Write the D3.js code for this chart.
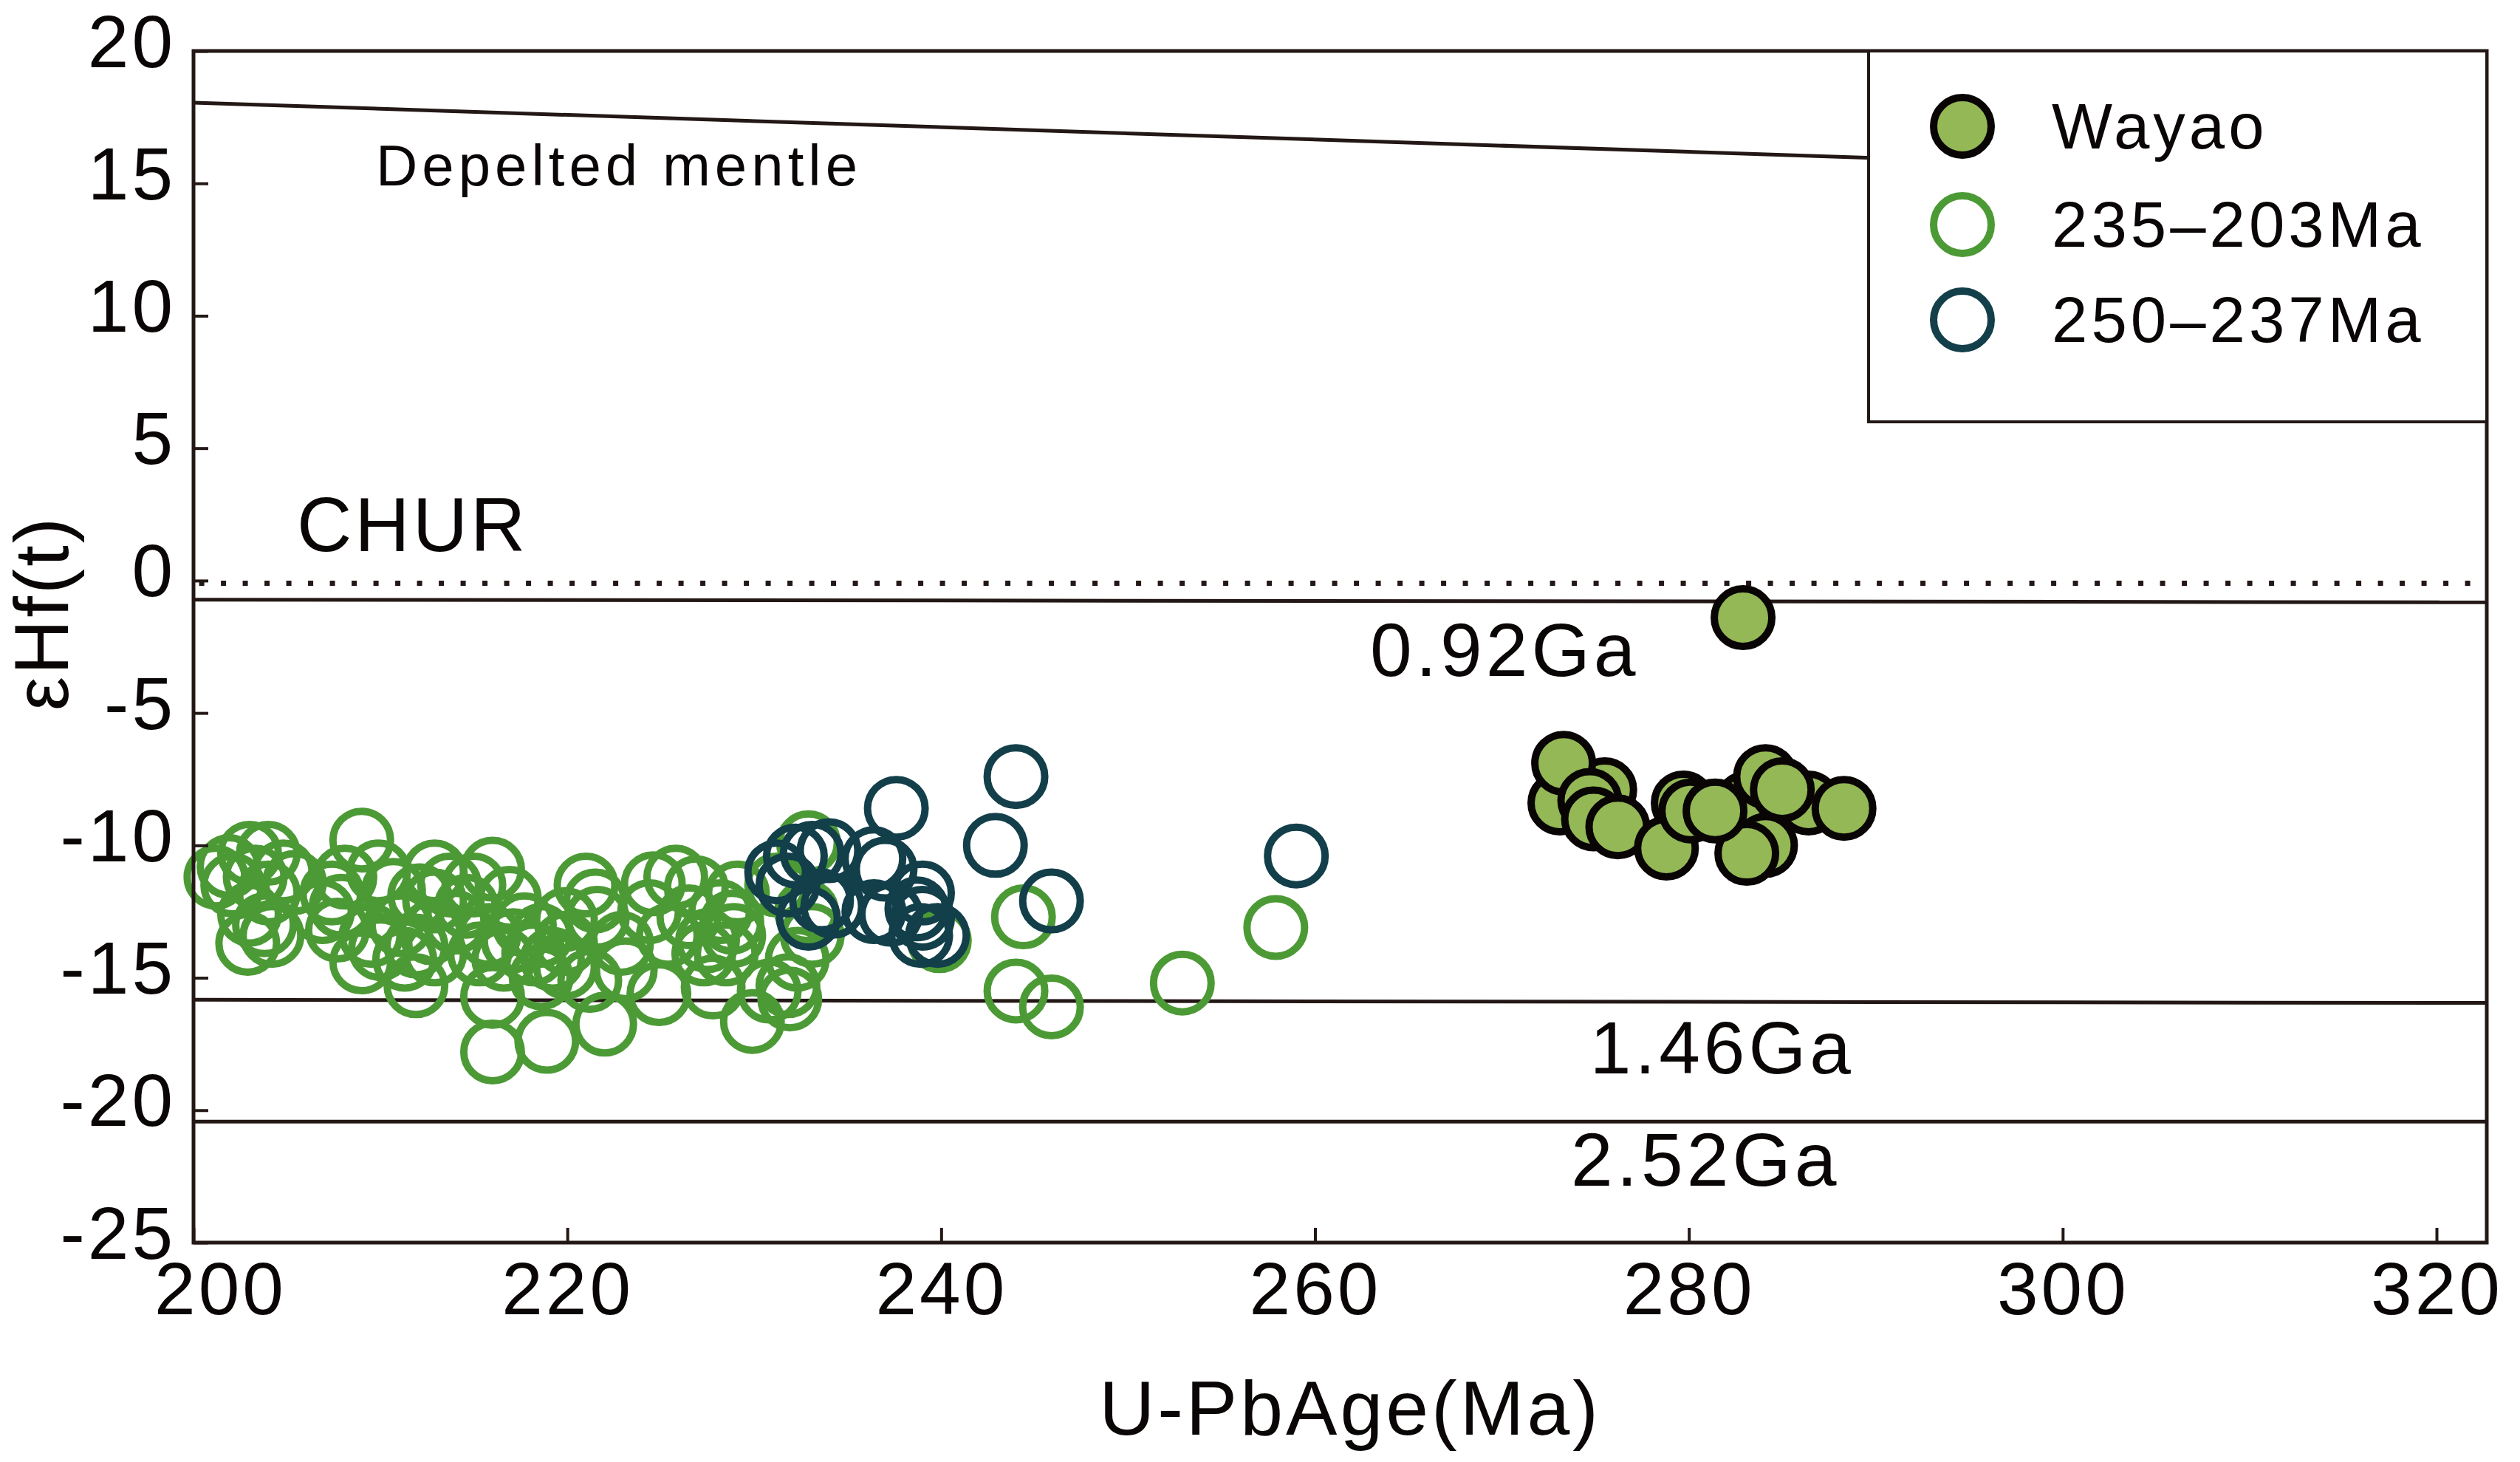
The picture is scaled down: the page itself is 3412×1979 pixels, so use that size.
<!DOCTYPE html>
<html>

<head>
    <meta charset="utf-8">
    <style>
        body {
            margin: 0;
            background-color: #ffffff;
        }

        text {
            font-family: "Liberation Sans", Arial, sans-serif;
            fill: #0a0606;
        }
    </style>
    <script src="https://cdn.jsdelivr.net/npm/d3@7"></script>
</head>

<body>
    <script>
        // data: [U-Pb age (Ma), eHf(t)]
        var young = [ // 235-203Ma, open green
            [201.2, -11.2], [201.9, -10.8], [203.0, -10.3], [204.0, -10.3], [203.3, -11.2], [204.8, -11.0],
            [205.4, -11.4], [202.1, -11.5], [204.0, -11.8], [203.0, -12.6], [203.8, -13.0], [202.9, -13.7],
            [204.2, -13.4], [209.0, -9.8], [208.1, -11.2], [206.9, -12.5], [207.4, -11.8], [207.9, -12.3],
            [209.9, -11.0], [207.7, -13.2], [209.5, -13.4], [209.0, -14.4], [210.0, -13.9], [210.7, -11.7],
            [211.1, -13.0], [211.3, -14.3], [211.9, -13.8], [211.9, -15.3], [212.1, -11.9], [212.7, -13.3],
            [212.9, -11.0], [212.9, -12.1], [212.9, -14.1], [213.7, -11.5], [214.0, -12.9], [214.6, -12.3],
            [215.0, -11.5], [215.3, -14.1], [215.8, -13.4], [216.0, -10.9], [216.0, -15.7], [216.0, -17.8],
            [216.6, -14.3], [216.9, -12.0], [217.1, -13.6], [217.7, -13.0], [218.2, -14.1], [218.6, -13.4],
            [218.6, -15.0], [218.9, -17.4], [219.2, -14.3], [219.9, -12.8], [219.9, -13.7], [219.9, -14.6],
            [221.0, -11.5], [221.2, -15.1], [221.5, -12.1], [221.6, -12.75], [222.0, -16.75], [222.9, -13.7],
            [223.1, -14.7], [224.4, -12.5], [224.6, -11.45], [224.9, -15.6], [225.4, -13.4], [225.8, -11.2],
            [226.5, -12.7], [226.9, -11.6], [227.3, -14.1], [227.5, -13.6], [227.8, -15.35], [228.2, -12.5],
            [228.5, -14.1], [228.8, -12.9], [228.9, -13.4], [229.1, -11.8], [229.9, -16.65], [230.8, -15.5],
            [231.2, -11.5], [231.8, -15.3], [231.9, -15.8], [232.3, -14.3], [232.8, -12.5], [232.9, -9.9],
            [233.1, -13.4], [239.9, -13.6], [244.4, -12.7], [244.0, -15.5], [245.9, -16.1], [252.9, -15.2],
            [257.9, -13.1]
        ];

        var old = [ // 250-237Ma, open dark
            [231.2, -11.0], [232.2, -10.4], [233.1, -10.3], [234.0, -10.2], [231.8, -11.5], [232.9, -12.75],
            [233.6, -12.1], [234.2, -12.3], [236.4, -10.5], [236.4, -12.5], [237.0, -10.9], [237.3, -12.6],
            [237.6, -8.6], [238.7, -12.4], [239.0, -11.8], [239.0, -12.75], [238.9, -13.4], [239.8, -13.4],
            [242.9, -10.0], [244.0, -7.4], [245.9, -12.1], [259.0, -10.4]
        ];

        var wayao = [ // filled
            [273.1, -8.4], [275.5, -7.9], [273.3, -6.9], [274.7, -8.3], [274.9, -9.0], [276.2, -9.3],
            [279.7, -8.4], [278.8, -10.1], [280.1, -8.7], [283.1, -8.4], [284.1, -10.0], [283.1, -10.3],
            [281.4, -8.7], [284.1, -7.4], [286.4, -8.4], [285.0, -7.9], [288.3, -8.6], [282.9, -1.4]
        ];

        // reference curves
        var depleted = [[200, 18.05], [322.7, 15.2]];
        var chur = [[200.3, -0.1], [322.5, -0.1]];
        var ga092 = [[200, -0.72], [322.7, -0.82]];
        var ga146 = [[200, -15.83], [322.7, -15.95]];
        var ga252 = [[200, -20.43], [322.7, -20.43]];

        var xTicks = [200, 220, 240, 260, 280, 300, 320];
        var yTicks = [-25, -20, -15, -10, -5, 0, 5, 10, 15, 20];

        var notes = [
            { text: "Depelted mentle", x: 209.76, y: 14.93, size: 78, ls: 6 },
            { text: "CHUR", x: 205.53, y: 1.12, size: 103, ls: 4 },
            { text: "0.92Ga", x: 262.94, y: -3.60, size: 102, ls: 5 },
            { text: "1.46Ga", x: 274.71, y: -18.61, size: 100, ls: 5 },
            { text: "2.52Ga", x: 273.69, y: -22.85, size: 102, ls: 5 }
        ];

        var legendNames = ["Wayao", "235\u2013203Ma", "250\u2013237Ma"];

        var w = 3412;
        var h = 1979;
        var ink = "#231815";
        var green = "#4c9a35";
        var dark = "#123f4a";
        var fillGreen = "#93b855";

        var svg = d3.select("body")
            .append("svg")
            .attr("width", w)
            .attr("height", h);

        var x = d3.scaleLinear().domain([200, 320]).range([262, 3299]);
        var y = d3.scaleLinear().domain([-25, 20]).range([1682, 69]);
        var plotLeft = 262, plotRight = 3367, plotTop = 69, plotBottom = 1682;

        var line = d3.line()
            .x(function (d) { return x(d[0]); })
            .y(function (d) { return y(d[1]); });

        // evolution lines
        [depleted, ga092, ga146, ga252].forEach(function (l) {
            svg.append("path")
                .attr("d", line(l))
                .attr("fill", "none")
                .attr("stroke", ink)
                .attr("stroke-width", 5);
        });
        svg.append("path")
            .attr("d", line(chur))
            .attr("fill", "none")
            .attr("stroke", ink)
            .attr("stroke-width", 7)
            .attr("stroke-dasharray", "7 22.5");

        // annotations
        notes.forEach(function (n) {
            svg.append("text")
                .attr("x", x(n.x))
                .attr("y", y(n.y))
                .style("font-size", n.size + "px")
                .style("letter-spacing", n.ls + "px")
                .text(n.text);
        });

        // points
        svg.append("g")
            .selectAll("circle")
            .data(young)
            .enter()
            .append("circle")
            .attr("cx", function (d) { return x(d[0]); })
            .attr("cy", function (d) { return y(d[1]); })
            .attr("r", 39)
            .attr("fill", "none")
            .attr("stroke", green)
            .attr("stroke-width", 10);

        svg.append("g")
            .selectAll("circle")
            .data(old)
            .enter()
            .append("circle")
            .attr("cx", function (d) { return x(d[0]); })
            .attr("cy", function (d) { return y(d[1]); })
            .attr("r", 39)
            .attr("fill", "none")
            .attr("stroke", dark)
            .attr("stroke-width", 10);

        svg.append("g")
            .selectAll("circle")
            .data(wayao)
            .enter()
            .append("circle")
            .attr("cx", function (d) { return x(d[0]); })
            .attr("cy", function (d) { return y(d[1]); })
            .attr("r", 39)
            .attr("fill", fillGreen)
            .attr("stroke", "#0a0505")
            .attr("stroke-width", 10);

        // axes, ticks pointing inward, plain hyphen for negatives
        var plain = function (d) { return String(d); };
        var xAxis = svg.append("g")
            .attr("transform", "translate(0," + plotBottom + ")")
            .call(d3.axisBottom(x).tickValues(xTicks).tickFormat(plain)
                .tickSizeInner(-20).tickSizeOuter(0).tickPadding(26));
        var yAxis = svg.append("g")
            .attr("transform", "translate(" + plotLeft + ",0)")
            .call(d3.axisLeft(y).tickValues(yTicks).tickFormat(plain)
                .tickSizeInner(-20).tickSizeOuter(0).tickPadding(24));

        [xAxis, yAxis].forEach(function (a) {
            a.select(".domain").remove();
            a.selectAll("line").attr("stroke", ink).attr("stroke-width", 4);
            a.selectAll("text")
                .attr("fill", "#0a0606")
                .style("font-family", "'Liberation Sans', Arial, sans-serif")
                .style("font-size", "100px")
                .style("letter-spacing", "4px");
        });
        yAxis.selectAll("text").attr("dy", "0.21em");
        xAxis.selectAll("text").filter(function (d) { return d === 200; }).attr("dx", 36);

        // frame
        svg.append("rect")
            .attr("x", plotLeft)
            .attr("y", plotTop)
            .attr("width", plotRight - plotLeft)
            .attr("height", plotBottom - plotTop)
            .attr("fill", "none")
            .attr("stroke", ink)
            .attr("stroke-width", 5);

        // axis titles
        svg.append("text")
            .attr("x", 1828)
            .attr("y", 1942)
            .attr("text-anchor", "middle")
            .style("font-size", "104px")
            .style("letter-spacing", "4px")
            .text("U-PbAge(Ma)");

        svg.append("text")
            .attr("transform", "translate(92,830) rotate(-90)")
            .attr("text-anchor", "middle")
            .style("font-size", "103px")
            .style("letter-spacing", "3px")
            .text("εHf(t)");

        // legend
        var legend = svg.append("g");
        legend.append("rect")
            .attr("x", 2530)
            .attr("y", plotTop)
            .attr("width", plotRight - 2530)
            .attr("height", 571 - plotTop)
            .attr("fill", "#ffffff")
            .attr("stroke", ink)
            .attr("stroke-width", 4);

        var legendY = [171, 304, 433];
        var legendFill = [fillGreen, "none", "none"];
        var legendStroke = ["#0a0505", green, dark];
        legendNames.forEach(function (name, i) {
            legend.append("circle")
                .attr("cx", 2657)
                .attr("cy", legendY[i])
                .attr("r", 39)
                .attr("fill", legendFill[i])
                .attr("stroke", legendStroke[i])
                .attr("stroke-width", 10);
            legend.append("text")
                .attr("x", 2778)
                .attr("y", legendY[i] + 30)
                .style("font-size", "87px")
                .style("letter-spacing", "5px")
                .text(name);
        });
    </script>
</body>

</html>
